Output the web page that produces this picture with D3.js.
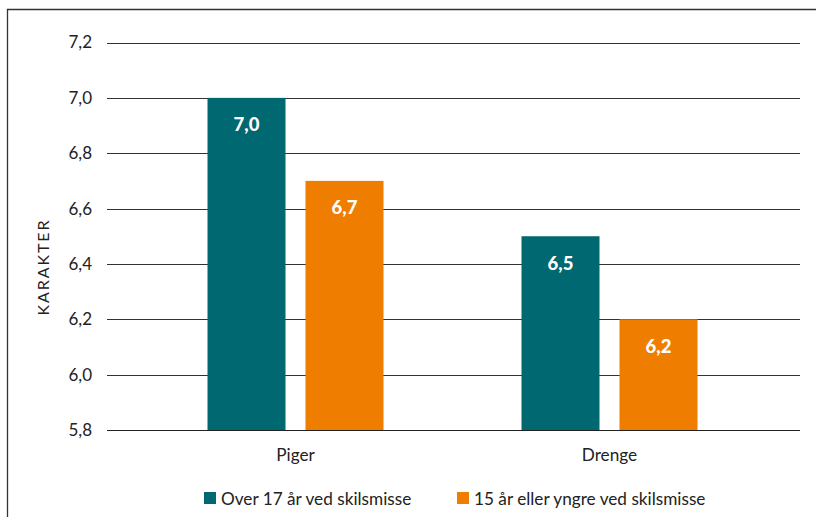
<!DOCTYPE html>
<html><head><meta charset="utf-8">
<script src="https://cdn.jsdelivr.net/npm/d3@7"></script>
<style>
html,body{margin:0;padding:0;background:#fff;}
svg{display:block;font-family:"Lato","Open Sans",sans-serif;}
</style></head>
<body>
<svg id="chart" width="816" height="517"></svg>
<script>
const categories = ["Piger", "Drenge"];
const seriesNames = ["Over 17 år ved skilsmisse", "15 år eller yngre ved skilsmisse"];
const over17 = [7.0, 6.5];
const under15 = [6.7, 6.2];
const yTicks = [5.8, 6.0, 6.2, 6.4, 6.6, 6.8, 7.0, 7.2];
const colors = ["#006870", "#EF7D00"];
const yLabel = "KARAKTER";

const svg = d3.select("#chart");
const fmt = v => d3.format(".1f")(v).replace(".", ",");

// frame
svg.append("line").attr("x1", 7.5).attr("x2", 7.5).attr("y1", 9).attr("y2", 517).attr("stroke", "#333").attr("stroke-width", 1.3);
svg.append("line").attr("x1", 7).attr("x2", 816).attr("y1", 9.5).attr("y2", 9.5).attr("stroke", "#333").attr("stroke-width", 1.3);

const y = d3.scaleLinear().domain([5.8, 7.2]).range([430, 42.5]);
const x0 = d3.scaleBand().domain(categories).range([138.5, 766.5]).padding(0);

// gridlines
svg.append("g").selectAll("line").data(yTicks).join("line")
  .attr("x1", 107).attr("x2", 800)
  .attr("y1", d => Math.round(y(d)) + 0.5).attr("y2", d => Math.round(y(d)) + 0.5)
  .attr("stroke", "#333").attr("stroke-width", 1);

// y tick labels
svg.append("g").selectAll("text").data(yTicks).join("text")
  .attr("x", 92).attr("y", d => y(d)).attr("dy", "0.35em")
  .attr("text-anchor", "end").attr("font-size", 17).attr("fill", "#222")
  .text(fmt);

// y label
svg.append("text").attr("transform", "translate(49,267) rotate(-90)")
  .attr("text-anchor", "middle").attr("font-size", 16).attr("letter-spacing", 1.9)
  .attr("fill", "#222").text(yLabel);

const series = [over17, under15];
const bw = 78, gap = 20;
const groups = svg.append("g").selectAll("g").data(categories).join("g")
  .attr("transform", c => `translate(${x0(c) + x0.bandwidth() / 2},0)`);

series.forEach((vals, si) => {
  const xOff = si === 0 ? -(bw + gap / 2) : gap / 2;
  groups.append("rect")
    .attr("x", xOff).attr("width", bw)
    .attr("y", (c, i) => y(vals[i])).attr("height", (c, i) => y(5.8) - y(vals[i]))
    .attr("fill", colors[si]);
  groups.append("text")
    .attr("x", xOff + bw / 2).attr("y", (c, i) => y(vals[i]) + 33.5)
    .attr("text-anchor", "middle").attr("font-size", 18.5).attr("font-weight", "900")
    .attr("fill", "#fff").text((c, i) => fmt(vals[i]));
});

// baseline on top
svg.append("line").attr("x1", 107).attr("x2", 800).attr("y1", Math.round(y(5.8)) + 0.5).attr("y2", Math.round(y(5.8)) + 0.5)
  .attr("stroke", "#222").attr("stroke-width", 1.2);

// category labels
groups.append("text").attr("x", 0).attr("y", 461).attr("text-anchor", "middle")
  .attr("font-size", 17.2).attr("fill", "#222").text(c => c);

// legend
const legX = [204, 457];
seriesNames.forEach((n, i) => {
  svg.append("rect").attr("x", legX[i]).attr("y", 492).attr("width", 12).attr("height", 12).attr("fill", colors[i]);
  svg.append("text").attr("x", legX[i] + 17).attr("y", 504.5).attr("font-size", 17.2).attr("fill", "#222").text(n);
});
</script>
</body></html>
